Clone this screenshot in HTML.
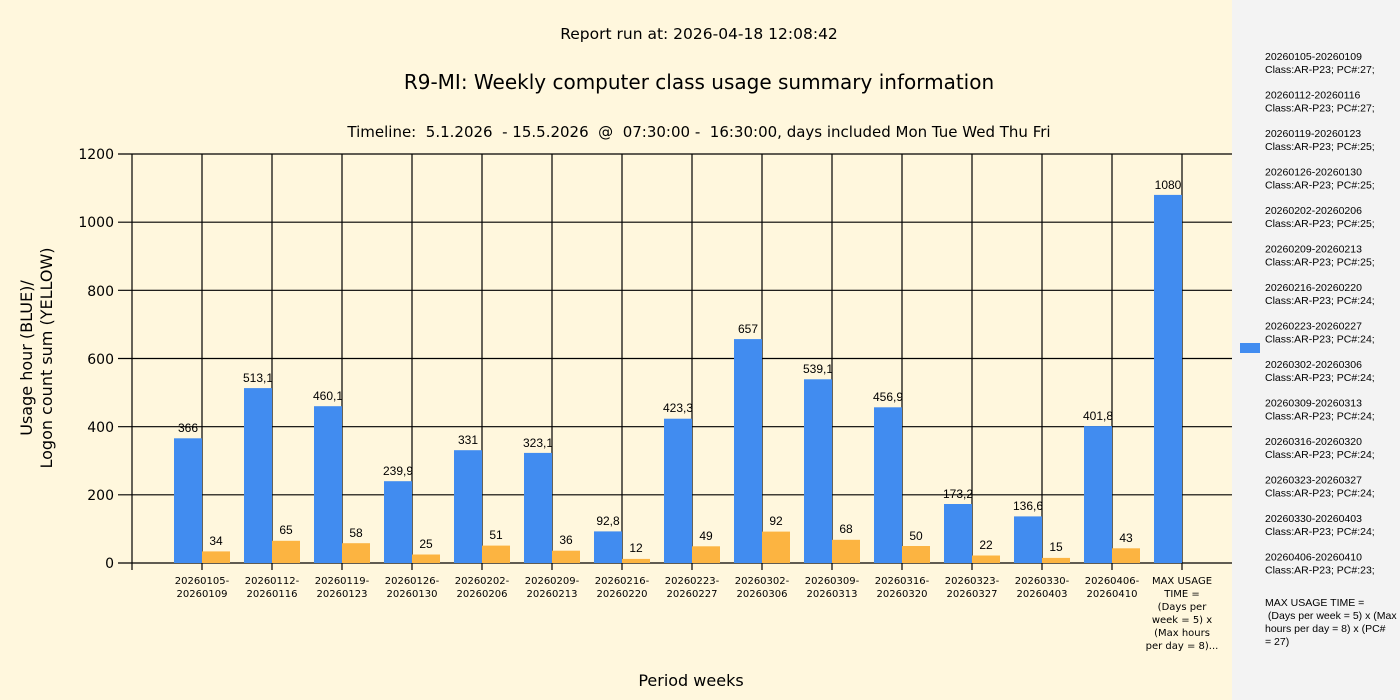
<!DOCTYPE html>
<html><head><meta charset="utf-8"><style>
html,body{margin:0;padding:0;background:#fff7dd;}
svg{display:block;font-family:"DejaVu Sans","Liberation Sans",sans-serif;}
text{white-space:pre;}
</style></head><body>
<svg width="1400" height="700" xmlns="http://www.w3.org/2000/svg" xml:space="preserve">
<rect width="1400" height="700" fill="#fff7dd"/>
<rect x="1232" y="0" width="168" height="700" fill="#f3f3f3"/>
<g font-size="15" text-anchor="middle" fill="#000">
<text x="699" y="39" font-size="15.5">Report run at: 2026-04-18 12:08:42</text>
<text x="699" y="89" font-size="20">R9-MI: Weekly computer class usage summary information</text>
<text x="699" y="137">Timeline:  5.1.2026  - 15.5.2026  @  07:30:00 -  16:30:00, days included Mon Tue Wed Thu Fri</text>
<text x="691" y="686" font-size="16">Period weeks</text>
</g>
<g font-size="16" text-anchor="middle" transform="translate(36,358) rotate(-90)">
<text x="0" y="-4">Usage hour (BLUE)/</text>
<text x="0" y="16">Logon count sum (YELLOW)</text>
</g>
<g stroke="#000" stroke-width="1.2">
<line x1="118" y1="563" x2="1232" y2="563"/>
<line x1="118" y1="494.8" x2="1232" y2="494.8"/>
<line x1="118" y1="426.7" x2="1232" y2="426.7"/>
<line x1="118" y1="358.5" x2="1232" y2="358.5"/>
<line x1="118" y1="290.3" x2="1232" y2="290.3"/>
<line x1="118" y1="222.2" x2="1232" y2="222.2"/>
<line x1="118" y1="154" x2="1232" y2="154"/>
<line x1="132" y1="154" x2="132" y2="570"/>
<line x1="202" y1="154" x2="202" y2="570"/>
<line x1="272" y1="154" x2="272" y2="570"/>
<line x1="342" y1="154" x2="342" y2="570"/>
<line x1="412" y1="154" x2="412" y2="570"/>
<line x1="482" y1="154" x2="482" y2="570"/>
<line x1="552" y1="154" x2="552" y2="570"/>
<line x1="622" y1="154" x2="622" y2="570"/>
<line x1="692" y1="154" x2="692" y2="570"/>
<line x1="762" y1="154" x2="762" y2="570"/>
<line x1="832" y1="154" x2="832" y2="570"/>
<line x1="902" y1="154" x2="902" y2="570"/>
<line x1="972" y1="154" x2="972" y2="570"/>
<line x1="1042" y1="154" x2="1042" y2="570"/>
<line x1="1112" y1="154" x2="1112" y2="570"/>
<line x1="1182" y1="154" x2="1182" y2="570"/>
</g>
<g font-size="14" text-anchor="end">
<text x="114" y="568">0</text>
<text x="114" y="500">200</text>
<text x="114" y="432">400</text>
<text x="114" y="364">600</text>
<text x="114" y="296">800</text>
<text x="114" y="227">1000</text>
<text x="114" y="159">1200</text>
</g>
<g fill="#418cf0">
<rect x="174" y="438.3" width="28" height="124.7"/>
<rect x="244" y="388.1" width="28" height="174.9"/>
<rect x="314" y="406.2" width="28" height="156.8"/>
<rect x="384" y="481.2" width="28" height="81.8"/>
<rect x="454" y="450.2" width="28" height="112.8"/>
<rect x="524" y="452.9" width="28" height="110.1"/>
<rect x="594" y="531.4" width="28" height="31.6"/>
<rect x="664" y="418.7" width="28" height="144.3"/>
<rect x="734" y="339.1" width="28" height="223.9"/>
<rect x="804" y="379.3" width="28" height="183.7"/>
<rect x="874" y="407.3" width="28" height="155.7"/>
<rect x="944" y="504" width="28" height="59"/>
<rect x="1014" y="516.4" width="28" height="46.6"/>
<rect x="1084" y="426.1" width="28" height="136.9"/>
<rect x="1154" y="194.9" width="28" height="368.1"/>
</g>
<g fill="#fcb441">
<rect x="202" y="551.4" width="28" height="11.6"/>
<rect x="272" y="540.8" width="28" height="22.2"/>
<rect x="342" y="543.2" width="28" height="19.8"/>
<rect x="412" y="554.5" width="28" height="8.5"/>
<rect x="482" y="545.6" width="28" height="17.4"/>
<rect x="552" y="550.7" width="28" height="12.3"/>
<rect x="622" y="558.9" width="28" height="4.1"/>
<rect x="692" y="546.3" width="28" height="16.7"/>
<rect x="762" y="531.6" width="28" height="31.4"/>
<rect x="832" y="539.8" width="28" height="23.2"/>
<rect x="902" y="546" width="28" height="17"/>
<rect x="972" y="555.5" width="28" height="7.5"/>
<rect x="1042" y="557.9" width="28" height="5.1"/>
<rect x="1112" y="548.3" width="28" height="14.7"/>
</g>
<g font-size="12" text-anchor="middle" font-family="Liberation Sans, sans-serif">
<text x="188" y="432">366</text>
<text x="258" y="382">513,1</text>
<text x="328" y="400">460,1</text>
<text x="398" y="475">239,9</text>
<text x="468" y="444">331</text>
<text x="538" y="447">323,1</text>
<text x="608" y="525">92,8</text>
<text x="678" y="412">423,3</text>
<text x="748" y="333">657</text>
<text x="818" y="373">539,1</text>
<text x="888" y="401">456,9</text>
<text x="958" y="498">173,2</text>
<text x="1028" y="510">136,6</text>
<text x="1098" y="420">401,8</text>
<text x="1168" y="189">1080</text>
<text x="216" y="545">34</text>
<text x="286" y="534">65</text>
<text x="356" y="537">58</text>
<text x="426" y="548">25</text>
<text x="496" y="539">51</text>
<text x="566" y="544">36</text>
<text x="636" y="552">12</text>
<text x="706" y="540">49</text>
<text x="776" y="525">92</text>
<text x="846" y="533">68</text>
<text x="916" y="540">50</text>
<text x="986" y="549">22</text>
<text x="1056" y="551">15</text>
<text x="1126" y="542">43</text>
</g>
<g font-size="10" text-anchor="middle">
<text x="202" y="584">20260105-</text><text x="202" y="597">20260109</text>
<text x="272" y="584">20260112-</text><text x="272" y="597">20260116</text>
<text x="342" y="584">20260119-</text><text x="342" y="597">20260123</text>
<text x="412" y="584">20260126-</text><text x="412" y="597">20260130</text>
<text x="482" y="584">20260202-</text><text x="482" y="597">20260206</text>
<text x="552" y="584">20260209-</text><text x="552" y="597">20260213</text>
<text x="622" y="584">20260216-</text><text x="622" y="597">20260220</text>
<text x="692" y="584">20260223-</text><text x="692" y="597">20260227</text>
<text x="762" y="584">20260302-</text><text x="762" y="597">20260306</text>
<text x="832" y="584">20260309-</text><text x="832" y="597">20260313</text>
<text x="902" y="584">20260316-</text><text x="902" y="597">20260320</text>
<text x="972" y="584">20260323-</text><text x="972" y="597">20260327</text>
<text x="1042" y="584">20260330-</text><text x="1042" y="597">20260403</text>
<text x="1112" y="584">20260406-</text><text x="1112" y="597">20260410</text>
<text x="1182" y="584">MAX USAGE</text>
<text x="1182" y="597">TIME =</text>
<text x="1182" y="610">(Days per</text>
<text x="1182" y="623">week = 5) x</text>
<text x="1182" y="636">(Max hours</text>
<text x="1182" y="649">per day = 8)...</text>
</g>
<rect x="1240" y="343" width="20" height="10" fill="#418cf0"/>
<g font-size="10.5" font-family="Liberation Sans, sans-serif">
<text x="1265" y="60">20260105-20260109</text><text x="1265" y="73">Class:AR-P23; PC#:27;</text>
<text x="1265" y="98.5">20260112-20260116</text><text x="1265" y="111.5">Class:AR-P23; PC#:27;</text>
<text x="1265" y="137">20260119-20260123</text><text x="1265" y="150">Class:AR-P23; PC#:25;</text>
<text x="1265" y="175.5">20260126-20260130</text><text x="1265" y="188.5">Class:AR-P23; PC#:25;</text>
<text x="1265" y="214">20260202-20260206</text><text x="1265" y="227">Class:AR-P23; PC#:25;</text>
<text x="1265" y="252.5">20260209-20260213</text><text x="1265" y="265.5">Class:AR-P23; PC#:25;</text>
<text x="1265" y="291">20260216-20260220</text><text x="1265" y="304">Class:AR-P23; PC#:24;</text>
<text x="1265" y="329.5">20260223-20260227</text><text x="1265" y="342.5">Class:AR-P23; PC#:24;</text>
<text x="1265" y="368">20260302-20260306</text><text x="1265" y="381">Class:AR-P23; PC#:24;</text>
<text x="1265" y="406.5">20260309-20260313</text><text x="1265" y="419.5">Class:AR-P23; PC#:24;</text>
<text x="1265" y="445">20260316-20260320</text><text x="1265" y="458">Class:AR-P23; PC#:24;</text>
<text x="1265" y="483.5">20260323-20260327</text><text x="1265" y="496.5">Class:AR-P23; PC#:24;</text>
<text x="1265" y="522">20260330-20260403</text><text x="1265" y="535">Class:AR-P23; PC#:24;</text>
<text x="1265" y="560.5">20260406-20260410</text><text x="1265" y="573.5">Class:AR-P23; PC#:23;</text>
<text x="1265" y="606">MAX USAGE TIME =</text>
<text x="1265" y="619"> (Days per week = 5) x (Max</text>
<text x="1265" y="632">hours per day = 8) x (PC#</text>
<text x="1265" y="645">= 27)</text>
</g>
</svg>
</body></html>
